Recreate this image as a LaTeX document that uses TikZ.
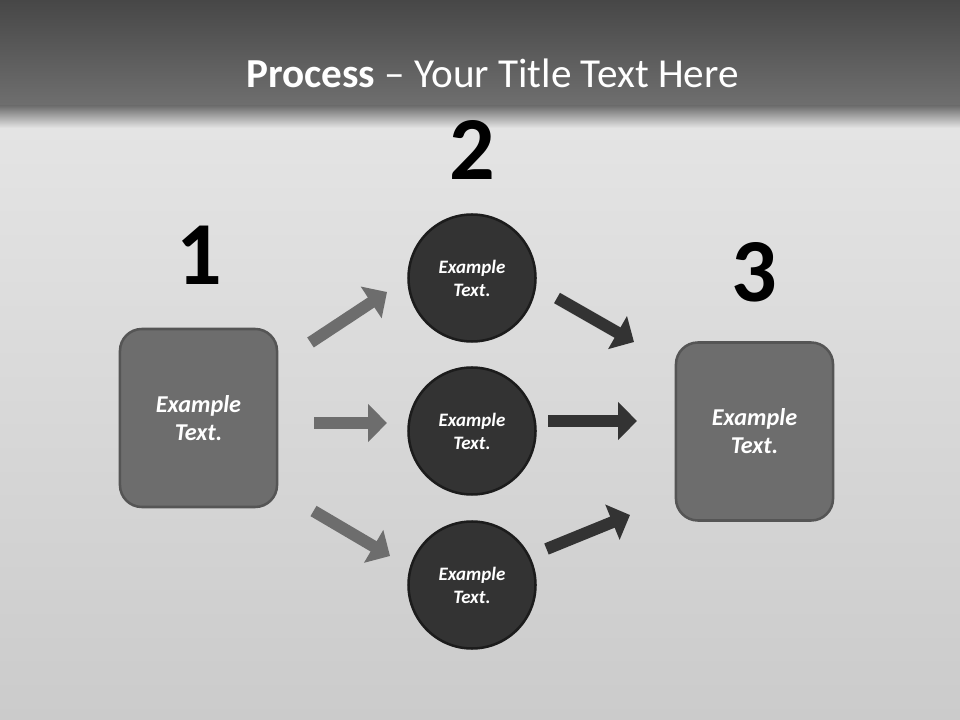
\documentclass[tikz,border=0pt]{standalone}
\usepackage{fontspec}
\setmainfont{Carlito}
\usetikzlibrary{arrows.meta}

\definecolor{bartop}{HTML}{474747}
\definecolor{barbot}{HTML}{6F6F6F}
\definecolor{bgtop}{HTML}{E4E4E4}
\definecolor{bgbot}{HTML}{CBCBCB}
\definecolor{boxfill}{HTML}{6D6D6D}
\definecolor{boxline}{HTML}{555555}
\definecolor{ballfill}{HTML}{333333}
\definecolor{ballline}{HTML}{1C1C1C}

\begin{document}
\begin{tikzpicture}[x=0.025cm,y=-0.025cm,
	stepbox/.style={draw=boxline,line width=1.8pt,fill=boxfill,rounded corners=15.6pt,
		minimum width=111.7pt,minimum height=126.6pt,align=center,text=white,
		font=\fontsize{17.2}{20}\selectfont\bfseries\itshape},
	ball/.style={circle,draw=ballline,line width=1.8pt,fill=ballfill,minimum size=90.3pt,
		inner sep=0pt,align=center,text=white,font=\fontsize{13.5}{16.4}\selectfont\bfseries\itshape},
	number/.style={anchor=base,inner sep=0pt,font=\fontsize{64}{64}\selectfont\bfseries},
	blockarrow/.style={line width=8.5pt,line cap=butt,-{Triangle[length=13.5pt,width=26.3pt]}}]

\useasboundingbox (0,0) rectangle (960,720);

% The background
\fill[top color=bgtop,bottom color=bgbot] (0,128) rectangle (960,720);
\fill[top color=bartop,bottom color=barbot] (0,0) rectangle (960,106);
\fill[top color=barbot,bottom color=bgtop] (0,106) rectangle (960,128);

% The title
\node[anchor=base,text=white,font=\fontsize{29.3}{29.3}\selectfont] (title) at (492.5,88)
	{\textbf{Process} – Your Title Text Here};

% The steps
\node[stepbox] (first) at (198.5,418) {Example\\Text.};
\node[stepbox] (last) at (754.5,431.5) {Example\\Text.};
\foreach \y/\name in {278/top,431/mid,585/bot}
	\node[ball] (\name) at (472,\y) {Example\\Text.};

% The numbers
\node[number] (n1) at (199,285) {1};
\node[number] (n2) at (472,180) {2};
\node[number] (n3) at (754,302) {3};

% The arrows
\coordinate (ta) at (310.5,342.5); \coordinate (ha) at (387,292);
\coordinate (tb) at (314,423);     \coordinate (hb) at (387,423);
\coordinate (tc) at (313.5,511);   \coordinate (hc) at (390,556);
\coordinate (td) at (557,298);     \coordinate (hd) at (634,342);
\coordinate (te) at (548,421);     \coordinate (he) at (637,421);
\coordinate (tf) at (546.5,549);   \coordinate (hf) at (630,515);

\foreach \a in {a,b,c}
	\draw[blockarrow,boxfill] (t\a) -- (h\a);
\foreach \a in {d,e,f}
	\draw[blockarrow,ballfill] (t\a) -- (h\a);

\end{tikzpicture}
\end{document}
